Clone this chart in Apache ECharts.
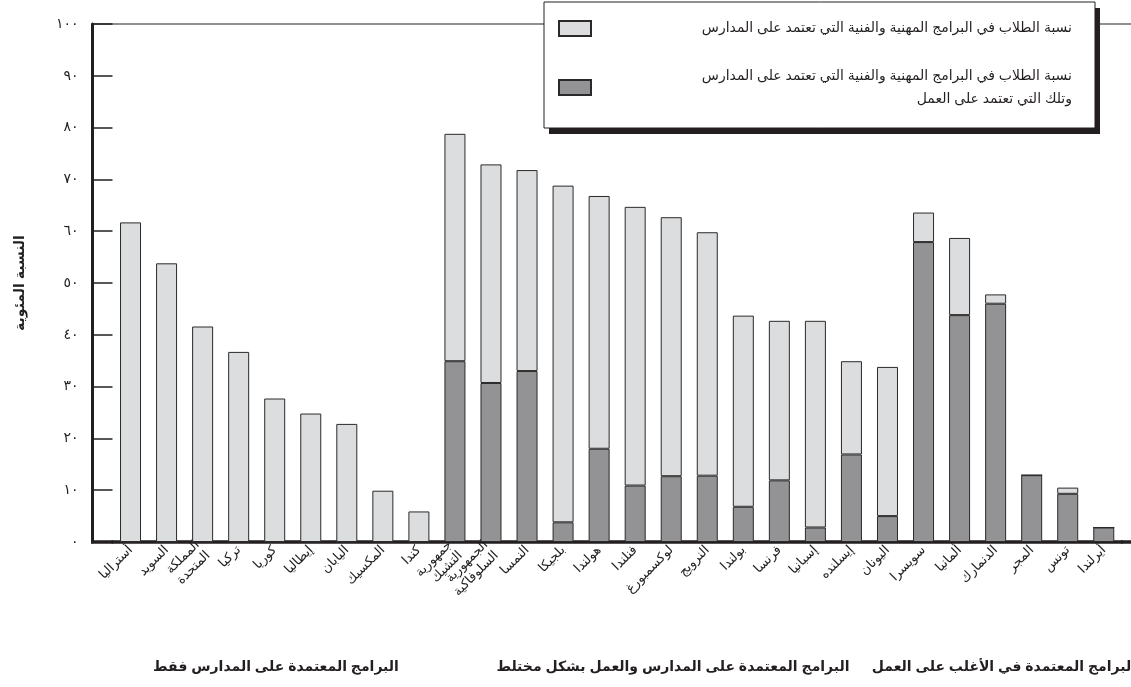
<!DOCTYPE html>
<html><head><meta charset="utf-8">
<script src="https://cdn.jsdelivr.net/npm/echarts@6/dist/echarts.min.js"></script>
<style>html,body{margin:0;padding:0;background:#fff}#c{width:1131px;height:687px}</style>
</head><body><div id="c"></div>
<script>
const countries = ['أستراليا','السويد','المملكة\nالمتحدة','تركيا','كوريا','إيطاليا','اليابان','المكسيك','كندا',
  'جمهورية\nالتشيك','الجمهورية\nالسلوفاكية','النمسا','بلجيكا','هولندا','فنلندا','لوكسمبورغ','النرويج','بولندا',
  'فرنسا','إسبانيا','إيسلنده','اليونان','سويسرا','ألمانيا','الدنمارك','المجر','تونس','أيرلندا'];
// share in combined school- and work-based programmes (dark, bottom)
const combined = [0,0,0,0,0,0,0,0,0, 34.9,30.7,33.0,3.8,18.0,10.9,12.7,12.8,6.8,11.9,2.8,16.9,5.0,57.9,43.8,46.0,12.9,9.3,2.8];
// share in school-based programmes (light, stacked on top)
const schoolBased = [61.7,53.8,41.6,36.7,27.7,24.8,22.8,9.9,5.9, 43.9,42.2,38.8,65.0,48.8,53.8,50.0,47.0,36.9,30.8,39.9,18.0,28.8,5.7,14.9,1.8,0,1.2,0];
const yTickLabels = ['٠','١٠','٢٠','٣٠','٤٠','٥٠','٦٠','٧٠','٨٠','٩٠','١٠٠'];
const lightName = 'نسبة الطلاب في البرامج المهنية والفنية التي تعتمد على المدارس';
const darkName = 'نسبة الطلاب في البرامج المهنية والفنية التي تعتمد على المدارس\nوتلك التي تعتمد على العمل';
const yAxisTitle = 'النسبة المئوية';
const groupLabels = ['البرامج المعتمدة على المدارس فقط','البرامج المعتمدة على المدارس والعمل بشكل مختلط','البرامج المعتمدة في الأغلب على العمل'];

const FONT = 'Arial, "Liberation Sans", "DejaVu Sans", sans-serif';
const INK = '#231f20';
const chart = echarts.init(document.getElementById('c'), null, {renderer: 'canvas'});

chart.setOption({
  animation: false,
  textStyle: {fontFamily: FONT},
  grid: {left: 112.5, right: 9.2, top: 24, bottom: 145, containLabel: false},
  xAxis: {
    type: 'category', data: countries, boundaryGap: true,
    axisLine: {show: true, lineStyle: {color: INK, width: 3.5}},
    axisTick: {show: false},
    splitLine: {show: false},
    axisLabel: {interval: 0, rotate: 45, margin: 6, fontSize: 13, color: INK, fontFamily: FONT, lineHeight: 15}
  },
  yAxis: {
    type: 'value', min: 0, max: 100, interval: 10, offset: 20,
    axisLine: {show: true, lineStyle: {color: INK, width: 3}},
    axisTick: {show: true, inside: true, length: 20, lineStyle: {color: INK, width: 1.5}},
    splitLine: {show: false},
    axisLabel: {margin: 14, fontSize: 14, color: INK, fontFamily: FONT,
      formatter: v => yTickLabels[Math.round(v / 10)]},
    name: yAxisTitle, nameLocation: 'middle', nameGap: 65, nameRotate: 90,
    nameTextStyle: {fontSize: 14, fontWeight: 'bold', color: INK, fontFamily: FONT}
  },
  legend: {
    left: 544, top: 2, orient: 'vertical', align: 'left', z: 10,
    itemWidth: 32, itemHeight: 15, itemGap: 32, icon: 'rect',
    padding: [18, 23, 22, 14],
    selectedMode: false,
    data: [lightName, darkName],
    formatter: n => '{t|' + n + '}',
    textStyle: {rich: {t: {width: 476, align: 'right', fontSize: 14, lineHeight: 23, color: INK, fontFamily: FONT}}}
  },
  series: [{
    name: darkName, type: 'bar', stack: 'total', barWidth: 21,
    data: combined,
    itemStyle: {color: '#939396', borderColor: '#2a2a2a', borderWidth: 1}
  }, {
    name: lightName, type: 'bar', stack: 'total', barWidth: 21,
    data: schoolBased,
    itemStyle: {color: '#dcdddf', borderColor: '#2a2a2a', borderWidth: 1}
  }],
  graphic: [
    // frame lines (top border and axis-line extensions)
    {type: 'line', z: 1, shape: {x1: 92, y1: 24, x2: 1131, y2: 24}, style: {stroke: INK, lineWidth: 1.2}},
    {type: 'line', z: 1, shape: {x1: 91, y1: 542, x2: 113, y2: 542}, style: {stroke: INK, lineWidth: 3.5}},
    {type: 'line', z: 1, shape: {x1: 1121, y1: 542, x2: 1131, y2: 542}, style: {stroke: INK, lineWidth: 3.5}},
    // legend frame with drop shadow
    {type: 'rect', z: 5, shape: {x: 549, y: 8, width: 551, height: 126}, style: {fill: INK}},
    {type: 'rect', z: 6, shape: {x: 544, y: 2, width: 551, height: 126}, style: {fill: '#fff', stroke: INK, lineWidth: 1}},
    // group labels
    {type: 'text', x: 276, y: 667, style: {text: groupLabels[0], font: 'bold 14px ' + FONT, fill: INK, align: 'center', verticalAlign: 'middle'}},
    {type: 'text', x: 673, y: 667, style: {text: groupLabels[1], font: 'bold 14px ' + FONT, fill: INK, align: 'center', verticalAlign: 'middle'}},
    {type: 'text', x: 1136, y: 667, style: {text: groupLabels[2], font: 'bold 14px ' + FONT, fill: INK, align: 'right', verticalAlign: 'middle'}}
  ]
});
</script></body></html>
